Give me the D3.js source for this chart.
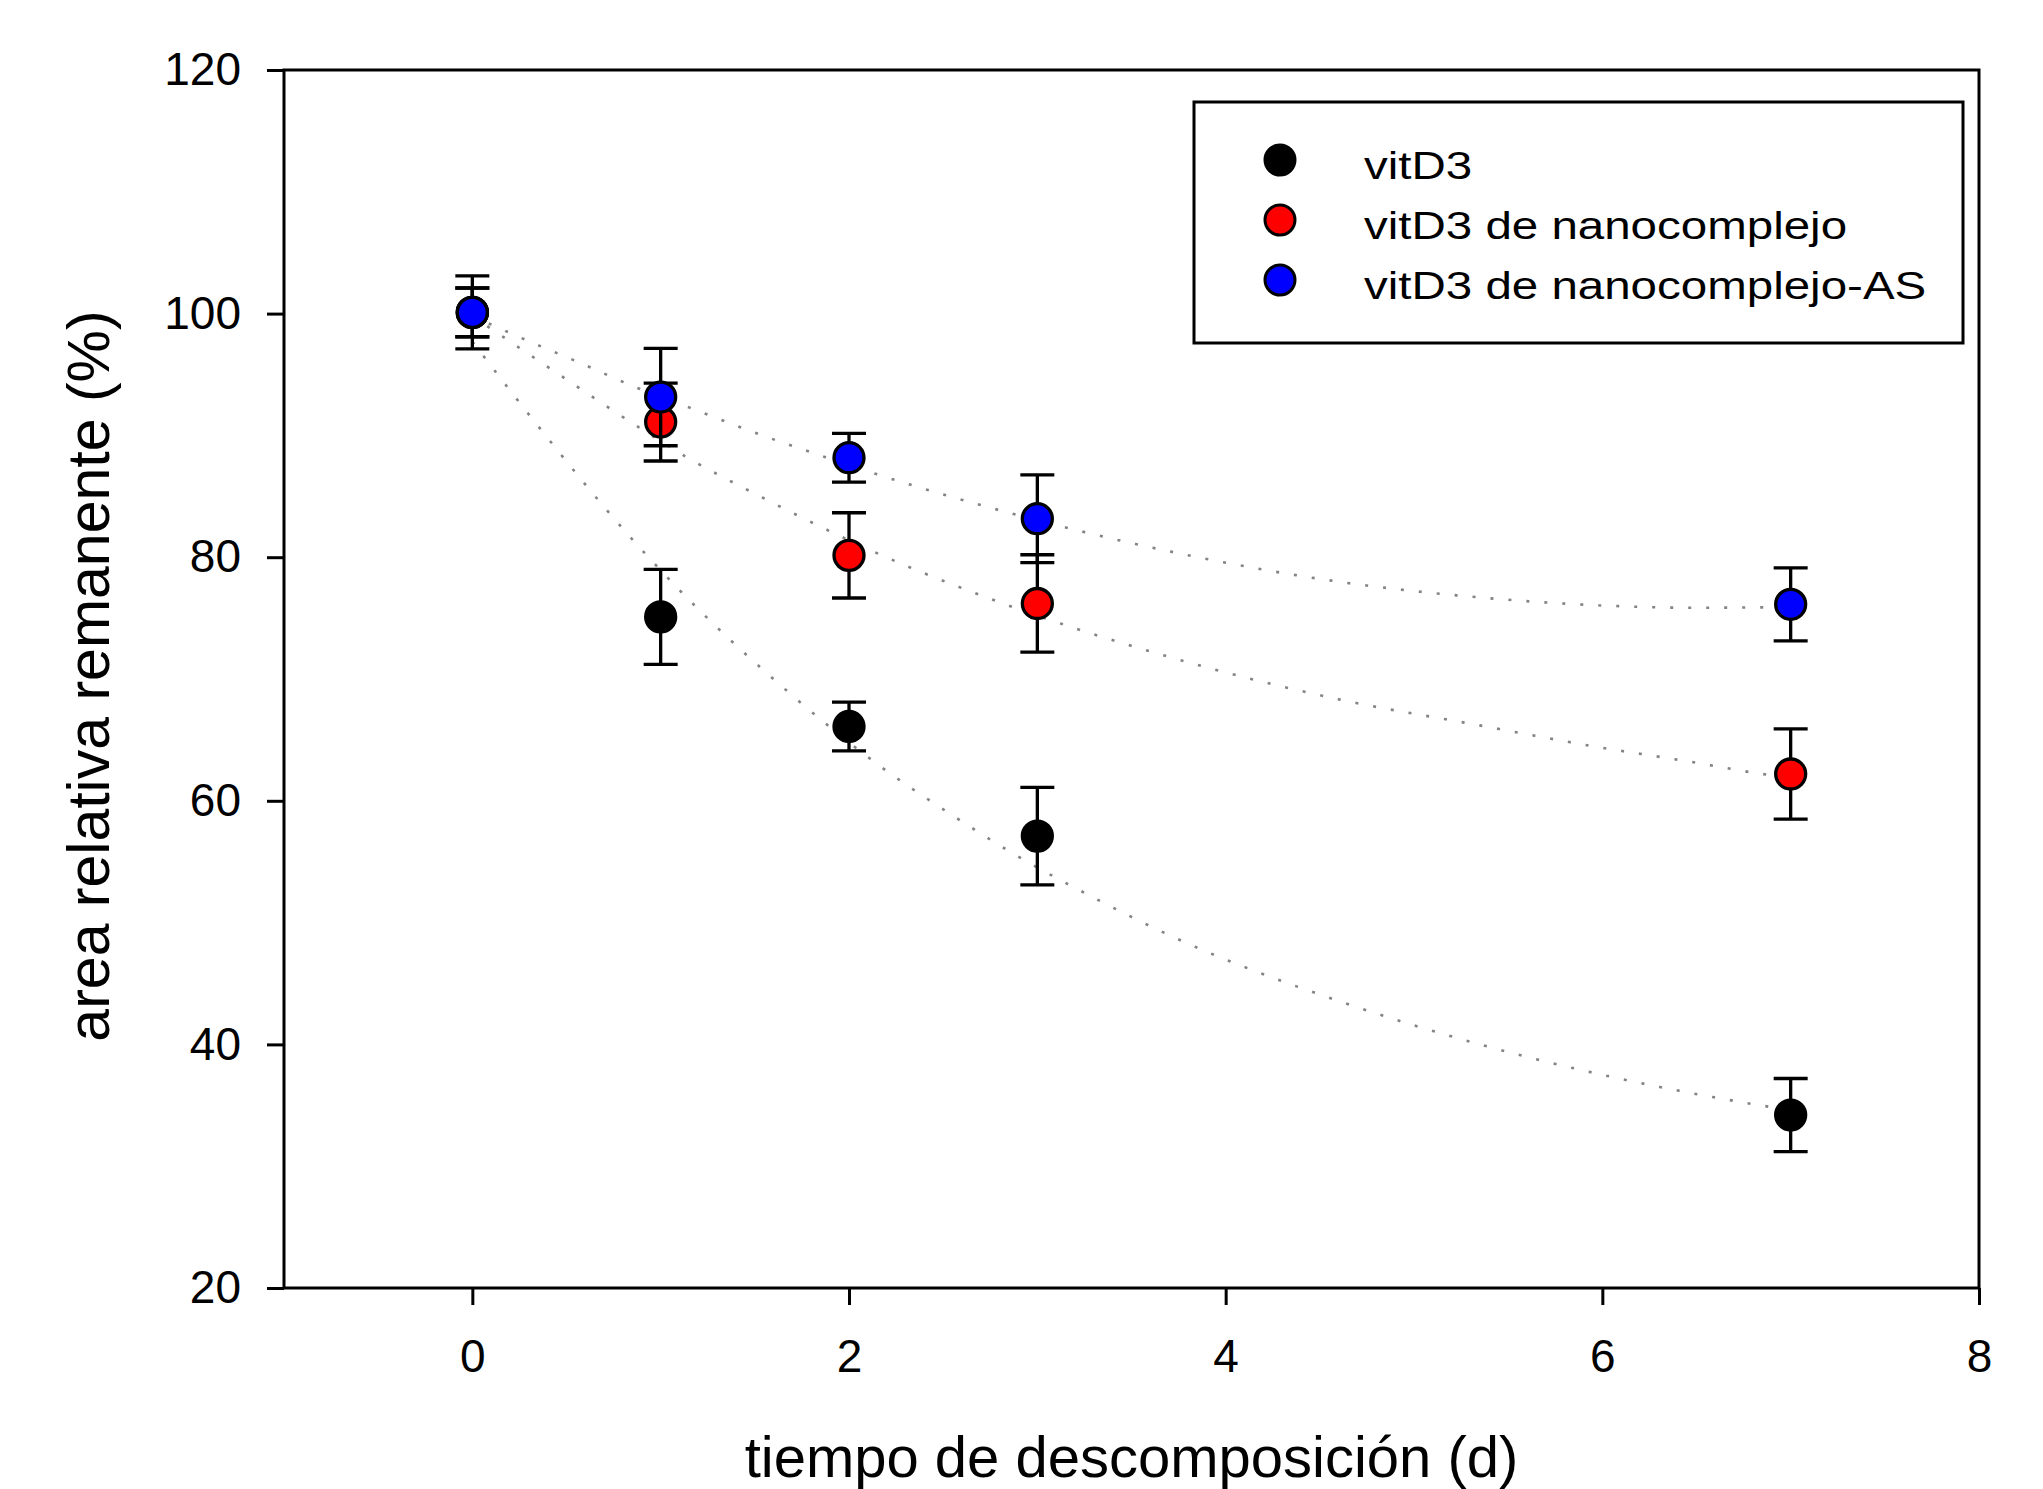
<!DOCTYPE html>
<html>
<head>
<meta charset="utf-8">
<script src="https://cdn.jsdelivr.net/npm/d3@7"></script>
<style>
  body { margin: 0; background: #fff; }
  text { font-family: 'Liberation Sans', Arial, sans-serif; fill: #000; }
</style>
</head>
<body>
<svg width="2043" height="1489"></svg>
<script>
// Data
const days = [0, 1, 2, 3, 7]
const seriesNames = ['vitD3', 'vitD3 de nanocomplejo', 'vitD3 de nanocomplejo-AS']
const seriesColors = ['#000000', '#ff0000', '#0000ff']

const vitD3 = [100.1, 75.1, 66.1, 57.1, 34.2]
const vitD3Err = [3.0, 3.9, 2.0, 4.0, 3.0]
const nano = [100.1, 91.1, 80.15, 76.2, 62.2]
const nanoErr = [2.0, 3.2, 3.5, 4.0, 3.7]
const nanoAS = [100.1, 93.15, 88.17, 83.16, 76.13]
const nanoASErr = [2.0, 4.0, 2.0, 3.6, 3.0]

// Regression curves (gray dotted)
const fitVitD3 = [[0, 97.7], [0.35, 90.75], [0.83, 81.8], [1.1, 77.3], [1.68, 68.9], [2.16, 62.9],
  [2.55, 58.8], [2.84, 55.96], [3.33, 51.8], [3.71, 48.9], [4.67, 43.2], [5.35, 40.0],
  [6.03, 37.4], [6.8, 35.1], [7, 34.6]]
const fitNano = [[0, 99.8], [0.48, 94.8], [0.86, 90.9], [1.14, 88.2], [1.54, 84.9], [1.93, 81.9],
  [2.11, 80.6], [2.8, 76.3], [3.68, 71.9], [4.64, 68.2], [5.31, 66.3], [5.98, 64.4],
  [6.47, 63.2], [6.85, 62.2], [7, 61.9]]
const fitNanoAS = [[0, 99.8], [0.29, 97.8], [0.58, 95.9], [0.86, 94.0], [1.15, 92.3], [1.54, 90.0],
  [1.83, 88.45], [2.11, 87.0], [2.8, 83.85], [3.68, 80.55], [4.64, 77.9], [5.31, 76.75],
  [5.98, 76.05], [6.47, 75.85], [7, 75.9]]

const xTicks = [0, 2, 4, 6, 8]
const yTicks = [20, 40, 60, 80, 100, 120]

const series = [
  {name: seriesNames[0], color: seriesColors[0], values: vitD3, err: vitD3Err, fit: fitVitD3},
  {name: seriesNames[1], color: seriesColors[1], values: nano, err: nanoErr, fit: fitNano},
  {name: seriesNames[2], color: seriesColors[2], values: nanoAS, err: nanoASErr, fit: fitNanoAS}
]

const svg = d3.select('svg')
const plot = {left: 284, right: 1979, top: 70, bottom: 1288}

const x = d3.scaleLinear().domain([-1, 8]).range([plot.left, plot.right])
const y = d3.scaleLinear().domain([20, 120]).range([plot.bottom, plot.top])

// Axes
const xAxis = svg.append('g')
  .attr('transform', `translate(0,${plot.bottom})`)
  .call(d3.axisBottom(x).tickValues(xTicks).tickSize(17).tickSizeOuter(0))
const yAxis = svg.append('g')
  .attr('transform', `translate(${plot.left},0)`)
  .call(d3.axisLeft(y).tickValues(yTicks).tickSize(17).tickPadding(26).tickSizeOuter(0))

for (const ax of [xAxis, yAxis]) {
  ax.select('.domain').remove()
  ax.selectAll('line').attr('stroke', '#000').attr('stroke-width', 3)
  ax.selectAll('text').attr('font-size', 46).attr('fill', '#000')
    .style('font-family', "'Liberation Sans', Arial, sans-serif")
}
xAxis.selectAll('text').attr('dy', null).attr('y', 84)

// Frame
svg.append('rect')
  .attr('x', plot.left).attr('y', plot.top)
  .attr('width', plot.right - plot.left).attr('height', plot.bottom - plot.top)
  .attr('fill', 'none').attr('stroke', '#000').attr('stroke-width', 3)

// Fitted curves
const line = d3.line().x(d => x(d[0])).y(d => y(d[1])).curve(d3.curveMonotoneX)
svg.append('g').selectAll('path')
  .data(series)
  .join('path')
  .attr('d', d => line(d.fit))
  .attr('fill', 'none')
  .attr('stroke', '#848484')
  .attr('stroke-width', 2.6)
  .attr('stroke-dasharray', '3,15')

// Error bars and markers, one series at a time so later series sit on top
const capHalf = 17
series.forEach(s => {
  const g = svg.append('g')
  const pts = days.map((d, i) => ({d, v: s.values[i], e: s.err[i]}))
  g.selectAll('.bar').data(pts).join('line')
    .attr('x1', p => x(p.d)).attr('x2', p => x(p.d))
    .attr('y1', p => y(p.v + p.e)).attr('y2', p => y(p.v - p.e))
    .attr('stroke', '#000').attr('stroke-width', 3.3)
  g.selectAll('.capTop').data(pts).join('line')
    .attr('x1', p => x(p.d) - capHalf).attr('x2', p => x(p.d) + capHalf)
    .attr('y1', p => y(p.v + p.e)).attr('y2', p => y(p.v + p.e))
    .attr('stroke', '#000').attr('stroke-width', 3.3)
  g.selectAll('.capBottom').data(pts).join('line')
    .attr('x1', p => x(p.d) - capHalf).attr('x2', p => x(p.d) + capHalf)
    .attr('y1', p => y(p.v - p.e)).attr('y2', p => y(p.v - p.e))
    .attr('stroke', '#000').attr('stroke-width', 3.3)
  g.selectAll('circle').data(pts).join('circle')
    .attr('cx', p => x(p.d)).attr('cy', p => y(p.v)).attr('r', 15)
    .attr('fill', s.color).attr('stroke', '#000').attr('stroke-width', 3.3)
})

// Legend
const legend = svg.append('g')
legend.append('rect')
  .attr('x', 1194).attr('y', 102).attr('width', 769).attr('height', 241)
  .attr('fill', '#fff').attr('stroke', '#000').attr('stroke-width', 3)
series.forEach((s, i) => {
  const cy = 160 + i * 60
  legend.append('circle')
    .attr('cx', 1280).attr('cy', cy).attr('r', 15)
    .attr('fill', s.color).attr('stroke', '#000').attr('stroke-width', 3)
  legend.append('text')
    .attr('transform', `translate(1364,${cy + 19}) scale(1.25,1)`)
    .attr('font-size', 38)
    .text(s.name)
})

// Axis titles
svg.append('text')
  .attr('x', (plot.left + plot.right) / 2).attr('y', 1477)
  .attr('text-anchor', 'middle').attr('font-size', 58)
  .text('tiempo de descomposición (d)')
svg.append('text')
  .attr('transform', 'translate(109,676) rotate(-90)')
  .attr('text-anchor', 'middle').attr('font-size', 59)
  .text('area relativa remanente (%)')
</script>
</body>
</html>
